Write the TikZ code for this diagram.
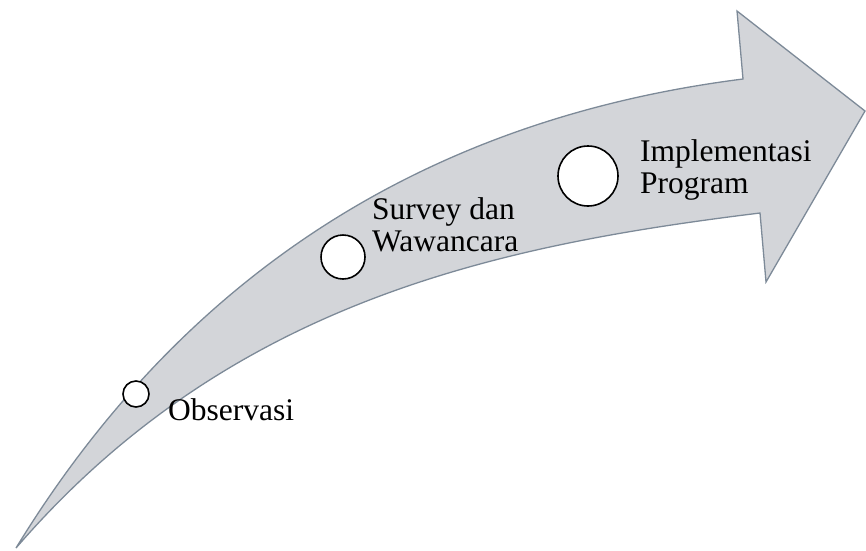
\documentclass[tikz,border=0pt]{standalone}
\usepackage{fontspec}
\setmainfont{Liberation Serif}
\definecolor{arrowfill}{RGB}{211,213,217}
\definecolor{arrowline}{RGB}{125,138,152}
\tikzset{
  arrowshape/.style={fill=arrowfill, draw=arrowline, line width=1.3pt, line join=miter},
  stepdot/.style={circle, draw=black, fill=white, line width=1.6pt, inner sep=0pt},
  steplabel/.style={font=\fontsize{31.5}{31.5}\selectfont, align=left, inner sep=0pt, anchor=base west}
}
\begin{document}
\begin{tikzpicture}[x=1pt,y=-1pt]
\useasboundingbox (0,0) rectangle (866,550);
\draw[arrowshape] (16,548) .. controls (180,280) and (420,120) .. (743,79)
  -- (737,11) -- (865,111) -- (766,282) -- (760,213)
  .. controls (500,245) and (230,300) .. (16,548) -- cycle;
\node[stepdot, minimum size=26pt] (c1) at (136,394) {};
\node[stepdot, minimum size=44pt] (c2) at (343,257) {};
\node[stepdot, minimum size=60pt] (c3) at (588,176) {};
\node[steplabel] (t1) at (168,420) {Observasi};
\node[steplabel] (t2) at (372,251) {Survey dan\\Wawancara};
\node[steplabel] (t3) at (640,193) {Implementasi\\Program};
\end{tikzpicture}
\end{document}
